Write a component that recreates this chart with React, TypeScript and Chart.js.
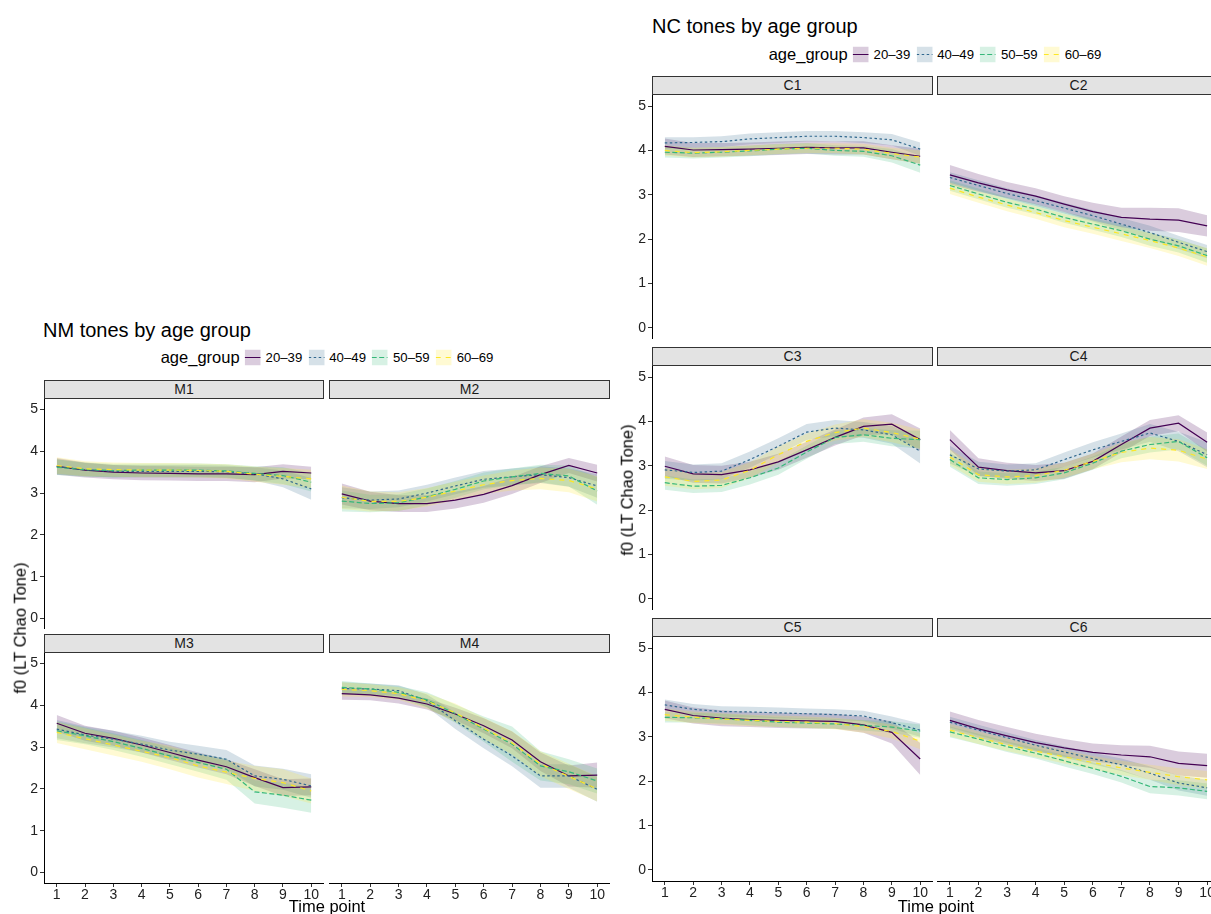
import React, { useEffect, useRef } from "react";
import { Chart, registerables } from "chart.js";

Chart.register(...registerables);

// Shared axes
const TIME_POINTS = [1, 2, 3, 4, 5, 6, 7, 8, 9, 10];
const Y_TICKS = [0, 1, 2, 3, 4, 5];
const AGE_GROUPS = ["20–39", "40–49", "50–59", "60–69"];

// Mean f0 per time point; rows are the age groups 20–39, 40–49, 50–59, 60–69.
// *_CI holds the half-width of each group's ribbon.
const M1_MEAN = [
  [3.64, 3.55, 3.5, 3.48, 3.47, 3.46, 3.46, 3.44, 3.52, 3.48],
  [3.63, 3.56, 3.52, 3.52, 3.52, 3.52, 3.51, 3.46, 3.34, 3.1],
  [3.62, 3.56, 3.54, 3.55, 3.55, 3.55, 3.53, 3.47, 3.42, 3.26],
  [3.66, 3.58, 3.56, 3.55, 3.55, 3.54, 3.52, 3.45, 3.4, 3.34],
];
const M1_CI = [
  [0.2, 0.18, 0.17, 0.17, 0.17, 0.17, 0.17, 0.18, 0.17, 0.15],
  [0.18, 0.16, 0.15, 0.15, 0.15, 0.15, 0.15, 0.16, 0.2, 0.26],
  [0.19, 0.17, 0.16, 0.16, 0.16, 0.16, 0.16, 0.17, 0.2, 0.22],
  [0.2, 0.18, 0.17, 0.17, 0.17, 0.17, 0.17, 0.18, 0.2, 0.22],
];

const M2_MEAN = [
  [2.98, 2.81, 2.75, 2.75, 2.83, 2.97, 3.18, 3.44, 3.66, 3.48],
  [2.89, 2.83, 2.86, 3.0, 3.17, 3.33, 3.39, 3.44, 3.37, 3.17],
  [2.81, 2.75, 2.77, 2.91, 3.09, 3.29, 3.39, 3.47, 3.41, 3.05],
  [2.9, 2.8, 2.8, 2.9, 3.05, 3.2, 3.3, 3.35, 3.3, 3.1],
];
const M2_CI = [
  [0.25, 0.22, 0.2, 0.2, 0.2, 0.2, 0.2, 0.2, 0.18, 0.2],
  [0.25, 0.21, 0.2, 0.2, 0.2, 0.2, 0.2, 0.2, 0.22, 0.28],
  [0.25, 0.21, 0.2, 0.2, 0.2, 0.2, 0.2, 0.21, 0.25, 0.33],
  [0.28, 0.24, 0.22, 0.22, 0.22, 0.22, 0.24, 0.26, 0.28, 0.3],
];

const M3_MEAN = [
  [3.57, 3.33, 3.21, 3.05, 2.87, 2.69, 2.53, 2.27, 2.03, 2.05],
  [3.43, 3.29, 3.19, 3.07, 2.93, 2.83, 2.71, 2.31, 2.23, 2.07],
  [3.39, 3.27, 3.13, 2.97, 2.79, 2.63, 2.47, 1.93, 1.85, 1.73],
  [3.35, 3.2, 3.05, 2.9, 2.75, 2.55, 2.4, 2.25, 2.15, 1.95],
];
const M3_CI = [
  [0.2, 0.18, 0.18, 0.18, 0.18, 0.18, 0.18, 0.2, 0.2, 0.2],
  [0.22, 0.2, 0.2, 0.2, 0.2, 0.2, 0.22, 0.25, 0.25, 0.28],
  [0.22, 0.2, 0.2, 0.2, 0.2, 0.22, 0.25, 0.28, 0.3, 0.3],
  [0.25, 0.25, 0.25, 0.25, 0.28, 0.28, 0.28, 0.3, 0.32, 0.3],
];

const M4_MEAN = [
  [4.28, 4.25, 4.17, 4.03, 3.79, 3.51, 3.17, 2.65, 2.31, 2.33],
  [4.4, 4.39, 4.35, 4.11, 3.63, 3.19, 2.79, 2.31, 2.31, 1.99],
  [4.43, 4.39, 4.31, 4.13, 3.8, 3.43, 3.07, 2.55, 2.41, 2.19],
  [4.38, 4.35, 4.28, 4.1, 3.82, 3.45, 3.1, 2.6, 2.3, 2.0],
];
const M4_CI = [
  [0.15, 0.13, 0.13, 0.13, 0.15, 0.18, 0.2, 0.22, 0.25, 0.3],
  [0.15, 0.13, 0.13, 0.15, 0.2, 0.22, 0.25, 0.28, 0.28, 0.3],
  [0.15, 0.13, 0.15, 0.18, 0.22, 0.3, 0.42, 0.35, 0.3, 0.3],
  [0.17, 0.15, 0.15, 0.18, 0.22, 0.25, 0.28, 0.3, 0.3, 0.3],
];

const C1_MEAN = [
  [4.09, 4.01, 4.02, 4.03, 4.05, 4.07, 4.06, 4.06, 3.96, 3.87],
  [4.17, 4.18, 4.2, 4.26, 4.29, 4.32, 4.32, 4.29, 4.24, 4.03],
  [3.96, 3.94, 3.96, 3.99, 4.03, 4.05, 4.0, 3.98, 3.88, 3.67],
  [4.0, 3.95, 3.97, 4.0, 4.03, 4.05, 4.05, 4.03, 3.93, 3.85],
];
const C1_CI = [
  [0.18, 0.16, 0.15, 0.15, 0.15, 0.15, 0.15, 0.15, 0.16, 0.17],
  [0.13, 0.12, 0.12, 0.12, 0.12, 0.12, 0.12, 0.12, 0.13, 0.15],
  [0.12, 0.12, 0.12, 0.12, 0.12, 0.12, 0.12, 0.12, 0.15, 0.17],
  [0.12, 0.11, 0.11, 0.11, 0.11, 0.11, 0.11, 0.12, 0.13, 0.15],
];

const C2_MEAN = [
  [3.45, 3.27, 3.11, 2.97, 2.79, 2.62, 2.49, 2.45, 2.43, 2.3],
  [3.39, 3.21, 3.03, 2.87, 2.7, 2.53, 2.34, 2.15, 1.93, 1.72],
  [3.21, 3.02, 2.83, 2.68, 2.49, 2.34, 2.19, 2.0, 1.85, 1.63],
  [3.15, 2.95, 2.77, 2.6, 2.42, 2.27, 2.12, 1.97, 1.8, 1.6],
];
const C2_CI = [
  [0.22, 0.2, 0.18, 0.18, 0.18, 0.2, 0.22, 0.26, 0.27, 0.24],
  [0.12, 0.12, 0.12, 0.12, 0.12, 0.13, 0.14, 0.15, 0.15, 0.15],
  [0.12, 0.12, 0.12, 0.12, 0.12, 0.13, 0.14, 0.15, 0.15, 0.16],
  [0.13, 0.13, 0.14, 0.14, 0.15, 0.15, 0.16, 0.17, 0.18, 0.2],
];

const C3_MEAN = [
  [2.99, 2.82, 2.8, 2.91, 3.09, 3.36, 3.64, 3.89, 3.94, 3.59],
  [2.91, 2.85, 2.88, 3.14, 3.44, 3.76, 3.85, 3.81, 3.7, 3.33],
  [2.62, 2.54, 2.56, 2.73, 2.95, 3.31, 3.64, 3.7, 3.62, 3.59],
  [2.75, 2.65, 2.68, 2.9, 3.25, 3.55, 3.75, 3.85, 3.75, 3.6],
];
const C3_CI = [
  [0.22, 0.2, 0.2, 0.18, 0.18, 0.18, 0.18, 0.2, 0.22, 0.25],
  [0.2, 0.18, 0.18, 0.18, 0.18, 0.18, 0.18, 0.18, 0.2, 0.28],
  [0.16, 0.15, 0.15, 0.15, 0.15, 0.15, 0.15, 0.16, 0.18, 0.2],
  [0.2, 0.18, 0.18, 0.18, 0.18, 0.18, 0.18, 0.2, 0.22, 0.22],
];

const C4_MEAN = [
  [3.59, 2.97, 2.89, 2.84, 2.89, 3.1, 3.48, 3.85, 3.96, 3.53],
  [3.25, 2.93, 2.88, 2.91, 3.14, 3.36, 3.55, 3.74, 3.55, 3.25],
  [3.14, 2.73, 2.69, 2.73, 2.84, 3.06, 3.33, 3.48, 3.55, 3.18],
  [3.2, 2.8, 2.75, 2.78, 2.9, 3.1, 3.3, 3.4, 3.35, 3.15],
];
const C4_CI = [
  [0.22, 0.2, 0.18, 0.18, 0.18, 0.18, 0.18, 0.18, 0.18, 0.22],
  [0.2, 0.16, 0.15, 0.15, 0.16, 0.17, 0.18, 0.2, 0.22, 0.28],
  [0.16, 0.14, 0.14, 0.14, 0.14, 0.15, 0.16, 0.18, 0.18, 0.18],
  [0.18, 0.16, 0.16, 0.16, 0.17, 0.18, 0.22, 0.25, 0.25, 0.22],
];

const C5_MEAN = [
  [3.62, 3.48, 3.42, 3.39, 3.37, 3.36, 3.35, 3.27, 3.1, 2.5],
  [3.72, 3.62, 3.57, 3.56, 3.54, 3.52, 3.5, 3.47, 3.32, 3.15],
  [3.44, 3.43, 3.41, 3.37, 3.33, 3.31, 3.29, 3.26, 3.22, 3.13],
  [3.5, 3.44, 3.4, 3.37, 3.35, 3.33, 3.3, 3.23, 3.12, 2.9],
];
const C5_CI = [
  [0.2, 0.18, 0.18, 0.17, 0.17, 0.17, 0.17, 0.18, 0.25, 0.36],
  [0.12, 0.12, 0.12, 0.12, 0.12, 0.12, 0.12, 0.12, 0.14, 0.15],
  [0.12, 0.11, 0.11, 0.11, 0.11, 0.11, 0.11, 0.12, 0.13, 0.15],
  [0.14, 0.13, 0.13, 0.13, 0.13, 0.13, 0.13, 0.14, 0.16, 0.18],
];

const C6_MEAN = [
  [3.37, 3.18, 3.02, 2.87, 2.75, 2.65, 2.59, 2.55, 2.4, 2.35],
  [3.33, 3.15, 2.98, 2.81, 2.66, 2.51, 2.37, 2.18, 1.96, 1.85],
  [3.11, 2.95, 2.78, 2.63, 2.46, 2.29, 2.11, 1.88, 1.85, 1.77],
  [3.15, 2.98, 2.82, 2.68, 2.55, 2.42, 2.3, 2.2, 2.1, 2.03],
];
const C6_CI = [
  [0.2, 0.2, 0.2, 0.2, 0.2, 0.2, 0.22, 0.25, 0.27, 0.27],
  [0.12, 0.12, 0.12, 0.12, 0.13, 0.13, 0.14, 0.15, 0.17, 0.18],
  [0.12, 0.12, 0.12, 0.12, 0.13, 0.13, 0.14, 0.15, 0.17, 0.18],
  [0.14, 0.14, 0.14, 0.14, 0.15, 0.15, 0.16, 0.17, 0.19, 0.2],
];

// Styling (viridis discrete palette, ggplot default linetypes)
const FONT = "'Liberation Sans', Arial, Helvetica, sans-serif";
const LINE_COLORS = ["#440154", "#31688E", "#35B779", "#FDE725"];
const FILL_COLORS = [
  "rgba(68,1,84,0.2)",
  "rgba(49,104,142,0.2)",
  "rgba(53,183,121,0.2)",
  "rgba(253,231,37,0.2)",
];
const DASHES: number[][] = [[], [2.5, 2.5], [5, 2.5], [5, 5]];

const Y_AXIS_W = 32;
const X_AXIS_H = 24;
const STRIP_H = 19;

type FacetProps = {
  label: string;
  mean: number[][];
  ci: number[][];
  left: number;
  stripTop: number;
  width: number;
  height: number;
  showX: boolean;
  showY: boolean;
};

function zeroPadding(s: any) {
  s.paddingTop = 0;
  s.paddingBottom = 0;
  s.paddingLeft = 0;
  s.paddingRight = 0;
}

function axisStyle(show: boolean, pad: number) {
  return {
    type: "linear" as const,
    display: show,
    grid: {
      display: true,
      drawOnChartArea: false,
      drawTicks: true,
      tickLength: 4,
      color: "#333333",
      lineWidth: 1,
    },
    border: { display: true, color: "#000000", width: 1 },
    ticks: {
      font: { family: FONT, size: 14 },
      color: "#222222",
      padding: pad,
      autoSkip: false,
      maxRotation: 0,
      callback: (v: any) => String(v),
    },
  };
}

function Facet(p: FacetProps) {
  const ref = useRef<HTMLCanvasElement>(null);
  const canvasLeft = p.left - (p.showY ? Y_AXIS_W : 0);
  const canvasW = p.width + (p.showY ? Y_AXIS_W : 0);
  const canvasH = p.height + (p.showX ? X_AXIS_H : 0);
  const panelTop = p.stripTop + STRIP_H;

  useEffect(() => {
    const ribbons: any[] = [];
    const lines: any[] = [];
    // later groups are listed first so earlier groups are painted underneath
    for (let g = p.mean.length - 1; g >= 0; g--) {
      ribbons.push({
        data: TIME_POINTS.map((t, i) => ({ x: t, y: p.mean[g][i] + p.ci[g][i] })),
        fill: "+1",
        backgroundColor: FILL_COLORS[g],
        borderColor: "rgba(0,0,0,0)",
        borderWidth: 0,
        pointRadius: 0,
        tension: 0,
        order: 1,
      });
      ribbons.push({
        data: TIME_POINTS.map((t, i) => ({ x: t, y: p.mean[g][i] - p.ci[g][i] })),
        fill: false,
        borderColor: "rgba(0,0,0,0)",
        borderWidth: 0,
        pointRadius: 0,
        tension: 0,
        order: 1,
      });
    }
    for (let g = p.mean.length - 1; g >= 0; g--) {
      lines.push({
        label: AGE_GROUPS[g],
        data: TIME_POINTS.map((t, i) => ({ x: t, y: p.mean[g][i] })),
        fill: false,
        borderColor: LINE_COLORS[g],
        borderWidth: 1.2,
        borderDash: DASHES[g],
        pointRadius: 0,
        tension: 0,
        order: 0,
      });
    }

    const chart = new Chart(ref.current as HTMLCanvasElement, {
      type: "line",
      data: { datasets: [...ribbons, ...lines] },
      options: {
        responsive: false,
        maintainAspectRatio: false,
        animation: false,
        devicePixelRatio: 1,
        events: [],
        layout: { padding: 0 },
        plugins: {
          legend: { display: false },
          tooltip: { enabled: false },
        },
        scales: {
          x: {
            ...axisStyle(p.showX, 0),
            min: 0.55,
            max: 10.45,
            afterBuildTicks: (s: any) => {
              s.ticks = TIME_POINTS.map((v) => ({ value: v }));
            },
            afterFit: (s: any) => {
              s.height = p.showX ? X_AXIS_H : 0;
              zeroPadding(s);
            },
          },
          y: {
            ...axisStyle(p.showY, 2),
            min: -0.25,
            max: 5.25,
            afterBuildTicks: (s: any) => {
              s.ticks = Y_TICKS.map((v) => ({ value: v }));
            },
            afterFit: (s: any) => {
              s.width = p.showY ? Y_AXIS_W : 0;
              zeroPadding(s);
            },
          },
        },
      } as any,
    });
    return () => chart.destroy();
  }, []);

  return (
    <>
      <div
        style={{
          position: "absolute",
          left: p.left,
          top: p.stripTop,
          width: p.width,
          height: STRIP_H,
          boxSizing: "border-box",
          background: "#e3e3e3",
          border: "1px solid #333",
          fontFamily: FONT,
          fontSize: 14,
          lineHeight: `${STRIP_H - 2}px`,
          textAlign: "center",
          color: "#1a1a1a",
        }}
      >
        {p.label}
      </div>
      <canvas
        ref={ref}
        width={canvasW}
        height={canvasH}
        style={{
          position: "absolute",
          left: canvasLeft,
          top: panelTop,
          width: canvasW,
          height: canvasH,
        }}
      />
    </>
  );
}

function LegendKey({ g }: { g: number }) {
  return (
    <svg width={16} height={16} style={{ display: "block" }}>
      <rect x={0} y={0} width={16} height={16} fill={FILL_COLORS[g]} />
      <line
        x1={0}
        y1={8}
        x2={16}
        y2={8}
        stroke={LINE_COLORS[g]}
        strokeWidth={1.2}
        strokeDasharray={DASHES[g].length ? DASHES[g].join(" ") : undefined}
      />
    </svg>
  );
}

function Legend({ cx, cy }: { cx: number; cy: number }) {
  return (
    <div
      style={{
        position: "absolute",
        left: cx,
        top: cy,
        transform: "translate(-50%, -50%)",
        display: "flex",
        alignItems: "center",
        whiteSpace: "nowrap",
        fontFamily: FONT,
        color: "#000",
      }}
    >
      <span style={{ fontSize: 16.5, marginRight: 5 }}>age_group</span>
      {AGE_GROUPS.map((lab, g) => (
        <React.Fragment key={lab}>
          <LegendKey g={g} />
          <span style={{ fontSize: 13.2, marginLeft: 5, marginRight: g < 3 ? 6 : 0 }}>{lab}</span>
        </React.Fragment>
      ))}
    </div>
  );
}

function Title({ text, left, top }: { text: string; left: number; top: number }) {
  return (
    <div
      style={{
        position: "absolute",
        left,
        top,
        fontFamily: FONT,
        fontSize: 20,
        lineHeight: "20px",
        whiteSpace: "nowrap",
        color: "#000",
      }}
    >
      {text}
    </div>
  );
}

function XTitle({ cx, top }: { cx: number; top: number }) {
  return (
    <div
      style={{
        position: "absolute",
        left: cx,
        top,
        transform: "translateX(-50%)",
        fontFamily: FONT,
        fontSize: 16.5,
        lineHeight: "16.5px",
        whiteSpace: "nowrap",
        color: "#000",
      }}
    >
      Time point
    </div>
  );
}

function YTitle({ cx, cy }: { cx: number; cy: number }) {
  return (
    <div
      style={{
        position: "absolute",
        left: cx,
        top: cy,
        transform: "translate(-50%, -50%) rotate(-90deg)",
        fontFamily: FONT,
        fontSize: 16.5,
        lineHeight: "16.5px",
        whiteSpace: "nowrap",
        color: "#000",
      }}
    >
      f0 (LT Chao Tone)
    </div>
  );
}

const NM_H = 230;
const NC_H = 244;

export default function App() {
  return (
    <div
      style={{
        position: "absolute",
        left: 0,
        top: 0,
        width: 1211,
        height: 914,
        overflow: "hidden",
        background: "#ffffff",
      }}
    >
      {/* NM tones */}
      <Title text="NM tones by age group" left={43} top={320} />
      <Legend cx={327} cy={357} />
      <Facet label="M1" mean={M1_MEAN} ci={M1_CI} left={44} stripTop={380} width={280} height={NM_H} showX={false} showY={true} />
      <Facet label="M2" mean={M2_MEAN} ci={M2_CI} left={329} stripTop={380} width={281} height={NM_H} showX={false} showY={false} />
      <Facet label="M3" mean={M3_MEAN} ci={M3_CI} left={44} stripTop={634} width={280} height={NM_H} showX={true} showY={true} />
      <Facet label="M4" mean={M4_MEAN} ci={M4_CI} left={329} stripTop={634} width={281} height={NM_H} showX={true} showY={false} />
      <YTitle cx={20} cy={628} />
      <XTitle cx={327} top={898} />

      {/* NC tones */}
      <Title text="NC tones by age group" left={652} top={16} />
      <Legend cx={935} cy={54} />
      <Facet label="C1" mean={C1_MEAN} ci={C1_CI} left={652} stripTop={76} width={281} height={NC_H} showX={false} showY={true} />
      <Facet label="C2" mean={C2_MEAN} ci={C2_CI} left={937} stripTop={76} width={283} height={NC_H} showX={false} showY={false} />
      <Facet label="C3" mean={C3_MEAN} ci={C3_CI} left={652} stripTop={347} width={281} height={NC_H} showX={false} showY={true} />
      <Facet label="C4" mean={C4_MEAN} ci={C4_CI} left={937} stripTop={347} width={283} height={NC_H} showX={false} showY={false} />
      <Facet label="C5" mean={C5_MEAN} ci={C5_CI} left={652} stripTop={618} width={281} height={NC_H} showX={true} showY={true} />
      <Facet label="C6" mean={C6_MEAN} ci={C6_CI} left={937} stripTop={618} width={283} height={NC_H} showX={true} showY={false} />
      <YTitle cx={627} cy={490} />
      <XTitle cx={936} top={898} />
    </div>
  );
}
